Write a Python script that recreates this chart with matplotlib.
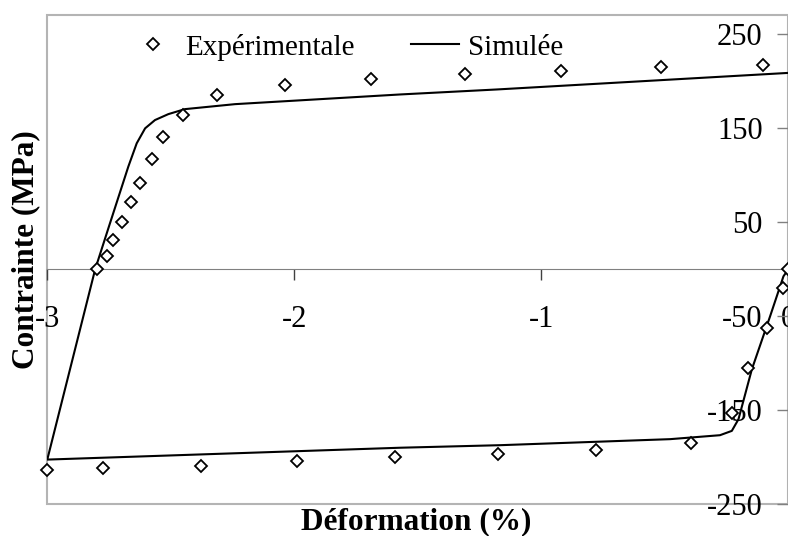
import numpy as np
import matplotlib
matplotlib.use('Agg')
from matplotlib import pyplot as plt
from matplotlib.patches import Rectangle

plt.rcParams['font.family'] = ['Liberation Serif', 'DejaVu Serif']

# experimental points (strain %, stress MPa)
exp_x = [-2.800, -2.757, -2.733, -2.699, -2.662, -2.625, -2.577, -2.532, -2.451,
         -2.312, -2.038, -1.689, -1.309, -0.921, -0.514, -0.101,
         -3.000, -2.773, -2.378, -1.990, -1.592, -1.175, -0.780, -0.395,
         -0.229, -0.162, -0.087, -0.022, 0.000]
exp_y = [0, 13.6, 30.5, 49.6, 71.2, 91.6, 116.7, 140.4, 163.7,
         184.9, 195.8, 202.1, 207.1, 210.6, 214.8, 217.4,
         -213.5, -211.3, -208.9, -204.2, -200.0, -196.5, -191.9, -185.2,
         -152.3, -104.7, -62.3, -19.9, 0]

# simulated loop
sim_x = [0, -0.020, -0.074, -0.148, -0.202, -0.229, -0.277, -0.479, -1.166, -1.571,
         -3.0, -2.806, -2.746, -2.672, -2.638, -2.604, -2.564, -2.510, -2.443, -2.240,
         -1.571, -1.180, 0]
sim_y = [0, -7.6, -50, -106.5, -159.4, -171.8, -176.4, -180.6, -187, -189.7,
         -202.3, 0, 48.9, 108.9, 133.7, 149.6, 158.4, 164.7, 170, 175.3,
         185.6, 190.9, 208.5]

xticks = [-3, -2, -1, 0]
yticks = [250, 150, 50, -50, -150, -250]

fig = plt.figure(figsize=(7.88, 5.36), dpi=100)
ax = fig.add_axes([0.060, 0.0588, 0.9405, 0.9132])

ax.plot(exp_x, exp_y, linestyle='none', marker='D', markersize=6,
        markerfacecolor='white', markeredgecolor='black', markeredgewidth=1.3,
        label='Expérimentale', clip_on=False, zorder=3)
ax.plot(sim_x, sim_y, color='black', linewidth=1.5, label='Simulée', zorder=2)

ax.set_xlim(-3, 0)
ax.set_ylim(-250, 270)

for s in ['top', 'right']:
    ax.spines[s].set_visible(False)
ax.spines['bottom'].set_position(('data', 0))
ax.spines['bottom'].set_color('#808080')
ax.spines['left'].set_position(('data', 0))
ax.spines['left'].set_color('#808080')
ax.add_patch(Rectangle((0, 0), 1, 1, transform=ax.transAxes, fill=False,
                       edgecolor='#b4b4b4', linewidth=1.5, clip_on=False, zorder=0))

ax.set_xticks(xticks)
ax.set_xticklabels([str(t) for t in xticks])
ax.set_yticks(yticks)
ax.set_yticklabels([str(t) for t in yticks])
ax.tick_params(axis='x', direction='out', length=8, width=1, color='#404040',
               pad=17.5, labelsize=22)
ax.tick_params(axis='y', direction='out', length=8, width=1, color='#808080',
               pad=10.5, labelsize=22)

ax.set_xlabel('Déformation (%)', fontsize=22.5, fontweight='bold', va='center')
ax.xaxis.set_label_coords(0.4976, -0.035)
ax.set_ylabel('Contrainte (MPa)', fontsize=22.5, fontweight='bold', va='center')
ax.yaxis.set_label_coords(-0.029, 0.52)

ax.legend(loc='upper left', bbox_to_anchor=(0.110, 0.962), ncol=2, frameon=False,
          fontsize=21, handlelength=1.64, handletextpad=0.31, columnspacing=1.92,
          borderaxespad=0, borderpad=0)

fig.savefig('out.png', dpi=100)
